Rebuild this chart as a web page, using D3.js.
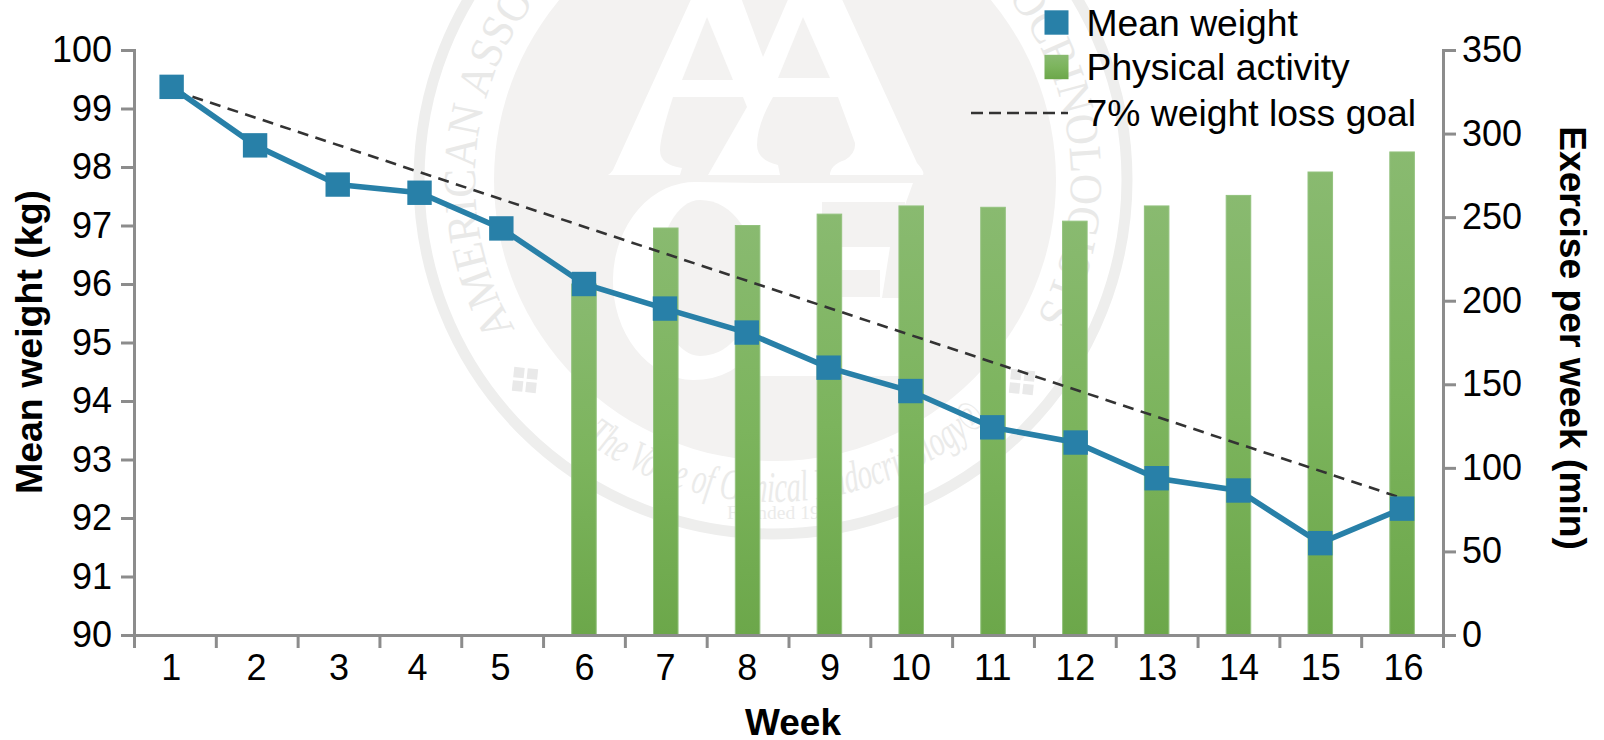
<!DOCTYPE html>
<html><head><meta charset="utf-8">
<script src="https://cdnjs.cloudflare.com/ajax/libs/d3/7.8.5/d3.min.js"></script>
<style>html,body{margin:0;padding:0;background:#fff}svg{display:block}text{font-family:"Liberation Sans",Arial,sans-serif;fill:#000}</style>
</head><body><div id="c"></div>
<script>
const weeks = [1,2,3,4,5,6,7,8,9,10,11,12,13,14,15,16];
const labelWeeks = [0.95,1.99,3,3.96,4.975,6,6.99,7.99,9,9.99,10.99,12,13,14,15,16.01];
const markerWeeks = [0.96,1.98,2.99,3.99,4.99,6,6.99,7.99,8.99,9.99,10.99,12.01,13,14,15,16];
const meanWeight = [99.37,98.37,97.70,97.56,96.95,96.00,95.58,95.17,94.57,94.17,93.55,93.29,92.68,92.47,91.57,92.16];
const activityWeeks = [6,7,8,9,10,11,12,13,14,15,16];
const activity = [210,243.5,245,251.8,256.7,255.9,247.6,256.7,263,277,289];
const goalWeeks = [1,16];
const goalWeight = [99.30,92.34];
const leftTicks = [90,91,92,93,94,95,96,97,98,99,100];
const rightTicks = [0,50,100,150,200,250,300,350];
const legendLabels = ["Mean weight","Physical activity","7% weight loss goal"];
const titles = {x:"Week",left:"Mean weight (kg)",right:"Exercise per week (min)"};

const W=1604,H=740,L=134,R=1443,T=50,B=635,FS=36;
const BLUE="#2880a8",AXIS="#8c8c8c";
const svg=d3.select("#c").append("svg").attr("width",W).attr("height",H);
const defs=svg.append("defs");
const g=defs.append("linearGradient").attr("id","gr").attr("x1",0).attr("x2",0).attr("y1",0).attr("y2",1);
g.append("stop").attr("offset","0").attr("stop-color","#89ba70");
g.append("stop").attr("offset","0.5").attr("stop-color","#7cb45d");
g.append("stop").attr("offset","1").attr("stop-color","#6ca74a");

/* watermark seal */
const wm=svg.append("g");
const cx=773,cy=180,ringC="#eeeeed",discC="#f3f2f1";
wm.append("circle").attr("cx",cx).attr("cy",cy).attr("r",354).attr("fill","none").attr("stroke",ringC).attr("stroke-width",11);
wm.append("circle").attr("cx",cx+2).attr("cy",cy).attr("r",281).attr("fill",discC);
const serif='"Liberation Serif",serif';
/* monogram artwork: white letter bodies, then disc-coloured counters */
const monoWhite=[
 "M693,-5 L613,170 Q611,173 608,175 L923,175 Q925,172 917,163 L840,-5 Z",
 "M697,182 L757,183 L905,183 L913,183 L905,205 L905,376 L757,376 L757,345 Q735,380 693,380 A82,99 0 0 1 697,182 Z"];
const monoGrey=[
 "M707,17 L682,80 L733,80 Z",
 "M803,17 L778,78 L830,78 Z",
 "M740,-5 L763,57 L790,-5 Z",
 "M673,97 L743,97 L747,107 L708,175 L680,175 L682,168 Q660,165 660,150 Q660,137 673,97 Z",
 "M773,97 L838,97 L855,143 Q856,153 845,160 Q830,165 830,175 L780,175 L778,165 Q757,160 757,145 Q757,125 773,97 Z",
 "M700,200 A42,78 0 0 0 700,356 Q725,356 742,330 L742,225 Q725,200 700,200 Z",
 "M822,202 L905,202 L905,298 L882,298 L890,247 L822,247 Z",
 "M842,270 L880,270 L880,297 L842,297 Z"];
wm.append("g").selectAll("path").data(monoWhite).join("path").attr("d",d=>d).attr("fill","#fff");
wm.append("g").selectAll("path").data(monoGrey).join("path").attr("d",d=>d).attr("fill",discC);
const rad=a=>a*Math.PI/180;
const pt=(r,a)=>[cx+r*Math.cos(rad(a)),cy+r*Math.sin(rad(a))];
function arc(id,r,a0,a1,sweep,large){const p0=pt(r,a0),p1=pt(r,a1);
  defs.append("path").attr("id",id).attr("d",`M${p0[0]},${p0[1]}A${r},${r} 0 ${large} ${sweep} ${p1[0]},${p1[1]}`);}
arc("topArc",298,150,28,1,1);
arc("botArc",322,126,48,0,0);
const tp=wm.append("text").style("font-family",serif).style("font-size","46px").style("fill","#e9e9e8");
tp.append("textPath").attr("href","#topArc").attr("textLength",1236).attr("lengthAdjust","spacingAndGlyphs").text("AMERICAN ASSOCIATION OF CLINICAL ENDOCRINOLOGISTS");
const bp=wm.append("text").style("font-family",serif).style("font-style","italic").style("font-size","44px").style("fill","#ebebea");
bp.append("textPath").attr("href","#botArc").attr("textLength",436).attr("lengthAdjust","spacingAndGlyphs").text("The Voice of Clinical Endocrinology\u00AE");
wm.append("text").attr("x",727).attr("y",519).text("Founded 1915").style("font-family",serif).style("font-size","19.5px").style("fill","#ebebea");
[[525,380,6],[1022,382,6]].forEach(([x,y,r])=>{
  const o=wm.append("g").attr("transform",`translate(${x},${y}) rotate(${r})`);
  [[-12,-12],[1.5,-12],[-12,1.5],[1.5,1.5]].forEach(([a,b])=>o.append("rect").attr("x",a).attr("y",b).attr("width",10.5).attr("height",10.5).attr("fill","#e9e9e9"));
});

/* scales */
const xBand=d3.scaleBand().domain(weeks).range([L,R]);
const xEdge=d3.scaleLinear().domain([0,weeks.length]).range([L,R]);
const xPos=d3.scaleLinear().domain([0.5,16.5]).range([L,R]);
const yL=d3.scaleLinear().domain([90,100]).range([B,T]);
const yR=d3.scaleLinear().domain([0,350]).range([B,T]);
const barW=xBand.bandwidth()*0.3;

/* bars */
svg.append("g").selectAll("rect").data(activityWeeks).join("rect")
 .attr("x",d=>xBand(d)+xBand.bandwidth()/2-barW/2).attr("width",barW)
 .attr("y",(d,i)=>yR(activity[i])).attr("height",(d,i)=>B-yR(activity[i]))
 .attr("fill","url(#gr)").attr("stroke","#93c27e").attr("stroke-width",1);

/* goal line */
const goalLine=d3.line().x((d,i)=>xPos(goalWeeks[i])).y(d=>yL(d));
svg.append("path").attr("d",goalLine(goalWeight)).attr("fill","none").attr("stroke","#333").attr("stroke-width",2.6).attr("stroke-dasharray","11 7.5");

/* weight line */
const wLine=d3.line().x((d,i)=>xPos(markerWeeks[i])).y(d=>yL(d));
svg.append("path").attr("d",wLine(meanWeight)).attr("fill","none").attr("stroke",BLUE).attr("stroke-width",5.6);
const mS=24.4;
svg.append("g").selectAll("rect").data(meanWeight).join("rect")
 .attr("x",(d,i)=>xPos(markerWeeks[i])-mS/2).attr("y",d=>yL(d)-mS/2).attr("width",mS).attr("height",mS).attr("fill",BLUE);

/* axes */
function style(a){a.select(".domain").attr("stroke",AXIS).attr("stroke-width",3);
 a.selectAll(".tick line").attr("stroke",AXIS).attr("stroke-width",3);
 a.selectAll("text").style("font-size",FS+"px").style("font-family",'"Liberation Sans",Arial,sans-serif').attr("fill","#000");}
style(svg.append("g").attr("transform",`translate(${L},0)`).call(d3.axisLeft(yL).tickValues(leftTicks).tickSize(13).tickPadding(9).tickFormat(d3.format("d"))));
style(svg.append("g").attr("transform",`translate(${R},0)`).call(d3.axisRight(yR).tickValues(rightTicks).tickSize(13).tickPadding(6).tickFormat(d3.format("d"))));
style(svg.append("g").attr("transform",`translate(0,${B})`).call(d3.axisBottom(xEdge).ticks(weeks.length).tickSize(13).tickFormat("")));
const xl=svg.append("g").attr("transform",`translate(0,${B})`).call(d3.axisBottom(xPos).tickValues(labelWeeks).tickSize(0).tickPadding(19).tickFormat((d,i)=>weeks[i]));
style(xl);xl.select(".domain").remove();xl.selectAll(".tick line").remove();

/* titles */
const bold=(s,f)=>s.style("font-size",f+"px").style("font-weight","bold");
bold(svg.append("text").attr("x",793).attr("y",735).attr("text-anchor","middle").text(titles.x),37);
bold(svg.append("text").attr("transform","translate(42,342) rotate(-90)").attr("text-anchor","middle").text(titles.left),37.5);
bold(svg.append("text").attr("transform","translate(1560,338) rotate(90)").attr("text-anchor","middle").text(titles.right),37.2);

/* legend */
const lx=1086.5, ly=[22.5,67,113], LF=37.3;
svg.append("rect").attr("x",1044.5).attr("y",ly[0]-12.2).attr("width",24).attr("height",24.4).attr("fill",BLUE);
svg.append("rect").attr("x",1044.5).attr("y",ly[1]-12.2).attr("width",24).attr("height",24.4).attr("fill","url(#gr)");
svg.append("line").attr("x1",971).attr("x2",1068).attr("y1",ly[2]).attr("y2",ly[2]).attr("stroke","#333").attr("stroke-width",2.6).attr("stroke-dasharray","12 6");
svg.append("g").selectAll("text").data(legendLabels).join("text").attr("x",lx).attr("y",(d,i)=>ly[i]+13).style("font-size",LF+"px").text(d=>d);
</script></body></html>
